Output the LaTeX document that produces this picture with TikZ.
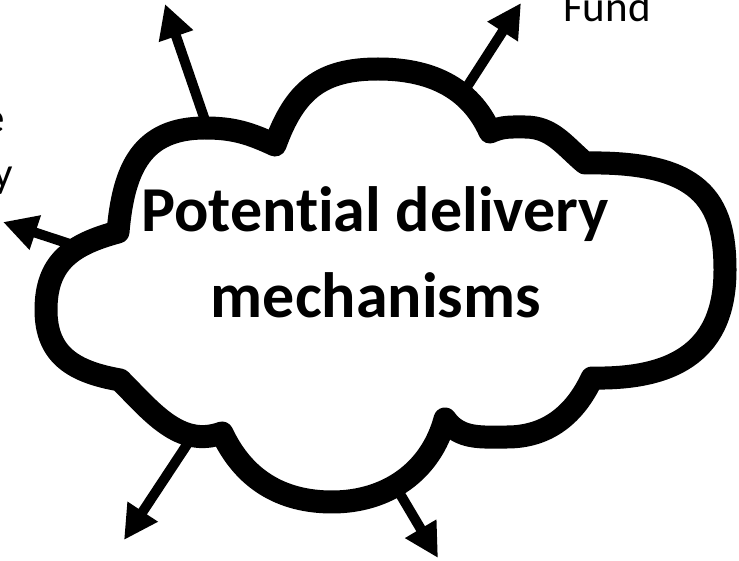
\documentclass[tikz,border=0pt]{standalone}
\usepackage{fontspec}
\setmainfont{Carlito}[Ligatures=NoCommon]
\usetikzlibrary{arrows.meta}
\tikzset{
  cloudline/.style={line width=23pt, line join=round, draw=black, fill=white},
  arr/.style={line width=10pt, draw=black, -{Triangle[length=34pt,width=34pt]}},
  titletext/.style={font=\bfseries\fontsize{64}{86}\selectfont, inner sep=0pt, anchor=base},
  lbltext/.style={font=\fontsize{43}{52}\selectfont, inner sep=0pt},
}
\begin{document}
\begin{tikzpicture}[x=1pt,y=1pt]
\useasboundingbox (0,0) rectangle (739,560);
\fill[white] (0,0) rectangle (739,560);
% cloud cusps and lobe extremes
\coordinate (C1) at (118,328);
\coordinate (ULa) at (205,432);
\coordinate (C2) at (275,415);
\coordinate (TMa) at (378,491);
\coordinate (C3) at (490,428);
\coordinate (URa) at (525,433);
\coordinate (C4) at (585,397);
\coordinate (Rr) at (725,290);
\coordinate (C5) at (592,182);
\coordinate (LRa) at (507,123);
\coordinate (C6) at (445,141);
\coordinate (Ba) at (332,58);
\coordinate (C7) at (222,127);
\coordinate (C8) at (120,180);
\coordinate (La) at (46,250);
% arrow ends
\coordinate (s1) at (208,431);   \coordinate (t1) at (165,556);
\coordinate (s2) at (463,467);   \coordinate (t2) at (521,557);
\coordinate (s3) at (76,314);    \coordinate (t3) at (3,338);
\coordinate (s4) at (192,123);   \coordinate (t4) at (124,20);
\coordinate (s5) at (390,83);    \coordinate (t5) at (438,2);
\draw[arr] (s1) -- (t1);
\draw[arr] (s2) -- (t2);
\draw[arr] (s3) -- (t3);
\draw[arr] (s4) -- (t4);
\draw[arr] (s5) -- (t5);
% cloud
\path[cloudline] (C1) to[out=85,in=180,looseness=1.2] (ULa)
  to[out=0,in=155] (C2)
  to[out=70,in=180,looseness=1.15] (TMa)
  to[out=0,in=114] (C3)
  to[out=25,in=180] (URa)
  to[out=0,in=140] (C4)
  .. controls (700,399) and (725,360) .. (Rr)
  .. controls (725,222) and (690,180) .. (C5)
  to[out=245,in=0] (LRa)
  to[out=180,in=305] (C6)
  to[out=255,in=0] (Ba)
  to[out=180,in=295] (C7)
  to[out=200,in=-45] (C8)
  to[out=170,in=270,looseness=1.15] (La)
  to[out=90,in=195,looseness=1.15] (C1) -- cycle;
% texts
\node[titletext] (title1) at (375,328) {Potential delivery};
\node[titletext] (title2) at (376,242) {mechanisms};
\node[lbltext, anchor=base west] (fund) at (563,538) {Fund};
\node[lbltext, anchor=base east] (lblE) at (5,427) {e};
\node[lbltext, anchor=base east] (lblY) at (13,372) {y};
\end{tikzpicture}
\end{document}
